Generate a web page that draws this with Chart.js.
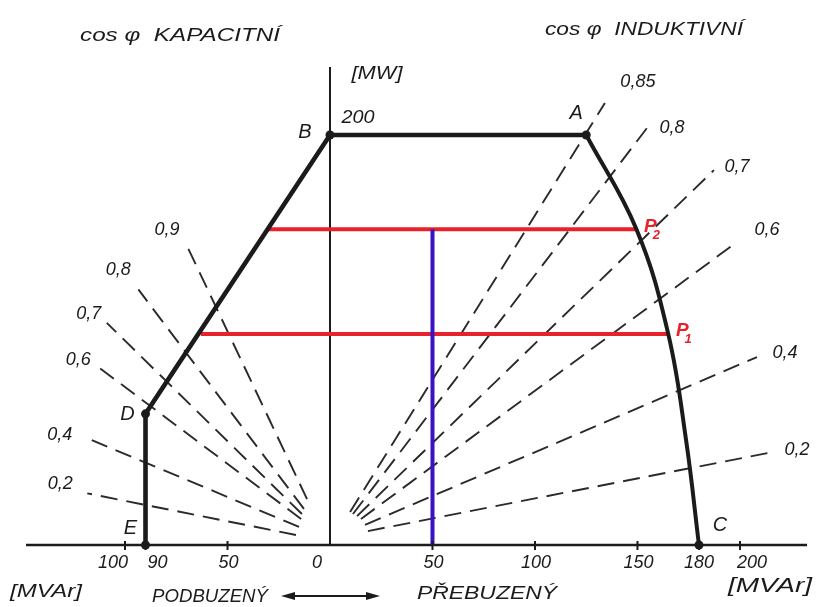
<!DOCTYPE html>
<html>
<head>
<meta charset="utf-8">
<script src="https://cdn.jsdelivr.net/npm/chart.js@4/dist/chart.umd.min.js"></script>
<style>
  html, body { margin: 0; padding: 0; background: #ffffff; }
  #wrap { width: 817px; height: 607px; }
</style>
</head>
<body>
<div id="wrap"><canvas id="pq" width="817" height="607"></canvas></div>
<script>
// P-Q capability diagram of a 200 MW synchronous generator
// Q = reactive power [MVAr] (horizontal), P = active power [MW] (vertical)

const qTicks      = [-100, -90, -50, 0, 50, 100, 150, 180, 200];
const qTickLabels = ['100', '90', '50', '0', '50', '100', '150', '180', '200'];

// corner points of the operating region
const cornerNames = ['E', 'D', 'B', 'A', 'C'];
const cornerQ     = [-90, -90, 0, 125, 180];
const cornerP     = [0, 64, 200, 200, 0];

// stator-current limit A -> C (through P2 and P1)
const arcQ = [125, 149.5, 165, 173.7, 180];
const arcP = [200, 154, 103, 51.2, 0];

// constant power-factor rays, over-excited (inductive) side
const inductiveCos   = ['0,85', '0,8', '0,7', '0,6', '0,4', '0,2'];
const inductiveFromQ = [9.8, 11.2, 13.2, 15.1, 17.1, 18.5];
const inductiveFromP = [16.1, 15.1, 14.1, 12.7, 9.8, 6.8];
const inductiveToQ   = [134.1, 154.6, 187.3, 198.5, 208.3, 213.7];
const inductiveToP   = [215.6, 203.4, 182.9, 147.8, 91.7, 44.9];

// constant power-factor rays, under-excited (capacitive) side
const capacitiveCos   = ['0,9', '0,8', '0,7', '0,6', '0,4', '0,2'];
const capacitiveFromQ = [-11.2, -12.7, -13.7, -14.1, -15.1, -16.6];
const capacitiveFromP = [22.4, 17.6, 15.1, 12.7, 8.8, 4.9];
const capacitiveToQ   = [-70.7, -93.5, -108.9, -115, -116.2, -118.4];
const capacitiveToP   = [147.9, 124.7, 108.4, 88.3, 51.2, 25.2];

// operating points P1, P2 and their active-power lines
const opNames = ['1', '2'];
const opP     = [103, 154];
const opQmin  = [-63, -31];
const opQmax  = [165, 149.5];
const loadQ   = 50;

// axis extent
const Q_MIN = -148.3, Q_MAX = 232.7, P_MIN = 0, P_MAX = 233.2;

// ---------------------------------------------------------------------
const ink = '#1b1b1b';
const red = '#e8222a';
const blue = '#3a12c6';
const FONT = "'Liberation Sans', Arial, sans-serif";

const pt = (x, y) => ({ x, y });

function lineSet(data, color, width, extra) {
  return Object.assign({
    type: 'scatter', data, showLine: true, borderColor: color, borderWidth: width,
    pointRadius: 0, fill: false, tension: 0, clip: false
  }, extra || {});
}

const datasets = [];

// corner dots (top-most)
datasets.push({
  type: 'scatter',
  data: cornerQ.map((q, i) => pt(q, cornerP[i])),
  pointRadius: 4.5, pointBackgroundColor: ink, pointBorderWidth: 0,
  showLine: false, clip: false
});

// boundary E - D - B - A
datasets.push(lineSet([0, 1, 2, 3].map(i => pt(cornerQ[i], cornerP[i])), ink, 4.6));
// arc A - C
datasets.push(lineSet(arcQ.map((q, i) => pt(q, arcP[i])), ink, 4, { tension: 0.4 }));

// constant-Q line at the load reactive power
datasets.push(lineSet([pt(loadQ, 0), pt(loadQ, opP[1])], blue, 4));

// active-power lines through P1, P2
opP.forEach((p, i) => {
  datasets.push(lineSet([pt(opQmin[i], p), pt(opQmax[i], p)], red, 4));
});

// axes
datasets.push(lineSet([pt(Q_MIN, 0), pt(Q_MAX, 0)], ink, 2.4));
datasets.push(lineSet([pt(0, 0), pt(0, P_MAX)], ink, 2));

// power-factor rays
inductiveCos.forEach((c, i) => {
  datasets.push(lineSet([pt(inductiveFromQ[i], inductiveFromP[i]), pt(inductiveToQ[i], inductiveToP[i])],
    '#2a2a2a', 1.9, { borderDash: [17, 9] }));
});
capacitiveCos.forEach((c, i) => {
  datasets.push(lineSet([pt(capacitiveFromQ[i], capacitiveFromP[i]), pt(capacitiveToQ[i], capacitiveToP[i])],
    '#2a2a2a', 1.9, { borderDash: [17, 9] }));
});

// ---------------------------------------------------------------------
// lettering
function put(ctx, s, x, y, size, opt) {
  opt = opt || {};
  ctx.save();
  ctx.font = (opt.bold ? 'bold ' : '') + 'italic ' + size + 'px ' + FONT;
  ctx.fillStyle = opt.color || ink;
  ctx.textBaseline = 'middle';
  ctx.textAlign = opt.align || 'center';
  if (opt.width) {
    const w = ctx.measureText(s).width;
    ctx.translate(x, y);
    ctx.scale(opt.width / w, 1);
    ctx.textAlign = 'center';
    ctx.fillText(s, 0, 0);
  } else {
    ctx.fillText(s, x, y);
  }
  ctx.restore();
}

// label offsets (pixels) from the outer end of each ray
const indLabelOff = [[33, -21], [25, 0], [23, -3], [30, -12], [28, -4], [29, -3]];
const capLabelOff = [[-18, -12], [-20, -19], [-18, -9], [-16, -4], [-32, -5], [-27, -9]];
const cornerLabelOff = [[-15, -17], [-18, 1], [-25, -3], [-10, -22], [21, -20]];

const lettering = {
  id: 'lettering',
  afterDraw(chart) {
    const ctx = chart.ctx;
    const xs = chart.scales.x, ys = chart.scales.y;
    const X = v => xs.getPixelForValue(v), Y = v => ys.getPixelForValue(v);
    const y0 = Y(0);

    // tick marks and tick labels on the Q axis
    ctx.save();
    ctx.strokeStyle = ink; ctx.lineWidth = 2;
    qTicks.forEach(t => {
      if (t === 0) return;
      ctx.beginPath(); ctx.moveTo(X(t), y0 - 4); ctx.lineTo(X(t), y0 + 5); ctx.stroke();
    });
    ctx.restore();
    qTicks.forEach((t, i) => {
      const px = X(t);
      let align = 'center', x = px + 1;
      if (t === -100) { align = 'right'; x = px + 3; }
      else if (t === -90) { align = 'left'; x = px + 2; }
      else if (t === 0) { align = 'right'; x = px - 8; }
      else if (t === 200) { align = 'left'; x = px - 3; }
      else if (t === 180) { x = px; }
      put(ctx, qTickLabels[i], x, y0 + 18, 18, { align });
    });

    // power-factor labels
    inductiveCos.forEach((c, i) => {
      put(ctx, c, X(inductiveToQ[i]) + indLabelOff[i][0], Y(inductiveToP[i]) + indLabelOff[i][1], 18);
    });
    capacitiveCos.forEach((c, i) => {
      put(ctx, c, X(capacitiveToQ[i]) + capLabelOff[i][0], Y(capacitiveToP[i]) + capLabelOff[i][1], 18);
    });

    // corner letters
    cornerNames.forEach((n, i) => {
      put(ctx, n, X(cornerQ[i]) + cornerLabelOff[i][0], Y(cornerP[i]) + cornerLabelOff[i][1], 20);
    });

    // operating points
    opNames.forEach((n, i) => {
      const px = X(opQmax[i]) + 14, py = Y(opP[i]) - 3;
      put(ctx, 'P', px, py, 19, { bold: true, color: red });
      put(ctx, n, px + 6, py + 9, 13, { bold: true, color: red });
    });

    // axis captions
    put(ctx, '200', X(0) + 28, Y(200) - 17, 18, { width: 33 });
    put(ctx, '[MW]', X(0) + 47, 74, 18, { width: 51 });
    put(ctx, 'cos φ  KAPACITNÍ', 180, 36, 19, { width: 200 });
    put(ctx, 'cos φ  INDUKTIVNÍ', 644, 30, 19, { width: 198 });
    put(ctx, '[MVAr]', 46, 592, 19, { width: 72 });
    put(ctx, '[MVAr]', 770, 586, 20, { width: 84 });
    put(ctx, 'PODBUZENÝ', 210, 597, 18, { width: 116 });
    put(ctx, 'PŘEBUZENÝ', 487, 594, 19, { width: 140 });

    // double arrow between the two captions
    ctx.save();
    ctx.strokeStyle = ink; ctx.fillStyle = ink; ctx.lineWidth = 2;
    const ay = 596, ax1 = 281, ax2 = 380;
    ctx.beginPath(); ctx.moveTo(ax1 + 8, ay); ctx.lineTo(ax2 - 8, ay); ctx.stroke();
    ctx.beginPath(); ctx.moveTo(ax1, ay); ctx.lineTo(ax1 + 14, ay - 4); ctx.lineTo(ax1 + 14, ay + 4); ctx.closePath(); ctx.fill();
    ctx.beginPath(); ctx.moveTo(ax2, ay); ctx.lineTo(ax2 - 14, ay - 4); ctx.lineTo(ax2 - 14, ay + 4); ctx.closePath(); ctx.fill();
    ctx.restore();
  }
};

new Chart(document.getElementById('pq'), {
  type: 'scatter',
  data: { datasets },
  options: {
    responsive: false,
    animation: false,
    devicePixelRatio: 1,
    events: [],
    layout: { padding: { left: 26, right: 10, top: 67, bottom: 62 } },
    plugins: { legend: { display: false }, tooltip: { enabled: false }, title: { display: false } },
    scales: {
      x: { type: 'linear', min: Q_MIN, max: Q_MAX, display: false },
      y: { type: 'linear', min: P_MIN, max: P_MAX, display: false }
    }
  },
  plugins: [lettering]
});
</script>
</body>
</html>
